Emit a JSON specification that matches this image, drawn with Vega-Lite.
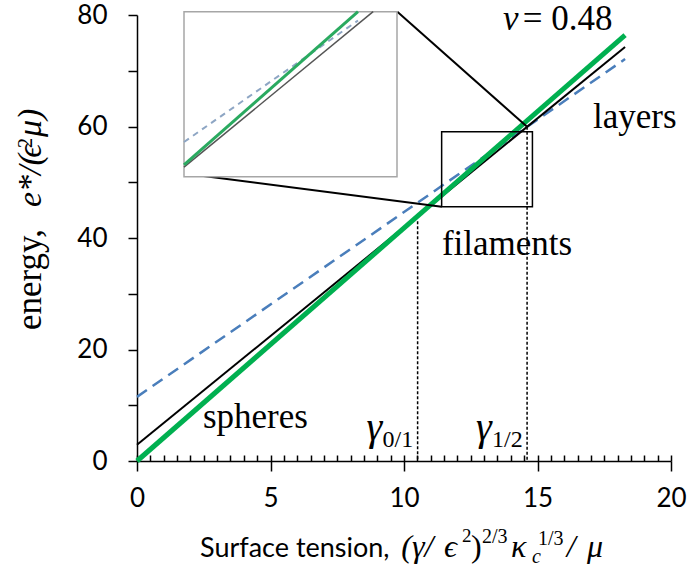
{
  "$schema": "https://vega.github.io/schema/vega-lite/v6.json",
  "width": 534,
  "height": 446,
  "autosize": "none",
  "padding": {"left": 137, "top": 15, "right": 19, "bottom": 114},
  "background": "white",
  "config": {"view": {"stroke": null}},
  "datasets": {
    "curves": [
      {"phase": "spheres", "x": 0, "y": 0},
      {"phase": "spheres", "x": 18.28, "y": 76.4},
      {"phase": "filaments", "x": 0, "y": 2.9},
      {"phase": "filaments", "x": 18.28, "y": 74.27},
      {"phase": "layers", "x": 0, "y": 11.5},
      {"phase": "layers", "x": 18.28, "y": 72.1}
    ],
    "inset": [
      {"phase": "spheres", "x": 11.14, "y": 46.57},
      {"phase": "spheres", "x": 14.13, "y": 59.07},
      {"phase": "filaments", "x": 11.14, "y": 46.39},
      {"phase": "filaments", "x": 14.39, "y": 59.07},
      {"phase": "layers", "x": 11.14, "y": 48.44},
      {"phase": "layers", "x": 14.13, "y": 58.35}
    ],
    "transitions": [
      {"gamma": "γ", "sub": "0/1", "x": 10.51, "y": 43.0},
      {"gamma": "γ", "sub": "1/2", "x": 14.61, "y": 59.94}
    ],
    "zoomBox": [{"x": 11.41, "x2": 14.81, "y": 45.61, "y2": 59.07}],
    "insetBox": [{"x": 11.14, "x2": 14.80, "y": 45.61, "y2": 59.07}],
    "connectors": [
      {"x": 9.75, "y": 80.6, "x2": 14.6, "y2": 60.0},
      {"x": 1.76, "y": 51.55, "x2": 11.41, "y2": 45.61}
    ],
    "labels": [
      {"text": "spheres", "x": 2.47, "y": 5.92},
      {"text": "filaments", "x": 11.42, "y": 36.95},
      {"text": "layers", "x": 17.08, "y": 59.7}
    ],
    "one": [{}]
  },
  "layer": [
    {
      "layer": [
        {
          "data": {"name": "curves"},
          "transform": [{"filter": "datum.phase == 'layers'"}],
          "mark": {"type": "line", "color": "#4a7ebb", "strokeWidth": 2.5, "strokeDash": [12, 7]},
          "encoding": {
            "x": {"field": "x", "type": "quantitative", "scale": {"domain": [0, 20], "nice": false},
              "axis": {"orient": "bottom", "values": [0, 5, 10, 15, 20], "title": null, "grid": false,
                "tickSize": 10, "tickWidth": 1.5, "tickColor": "black", "domainColor": "black", "domainWidth": 1.5,
                "labelFont": "Lato", "labelFontSize": 26, "labelColor": "black", "labelPadding": 14,
                "labelFlush": false, "labelOverlap": false, "labelBound": false}},
            "y": {"field": "y", "type": "quantitative", "scale": {"domain": [0, 80], "nice": false},
              "axis": {"orient": "left", "values": [0, 10, 20, 30, 40, 50, 60, 70, 80], "title": null, "grid": false,
                "labelExpr": "datum.value % 20 == 0 ? datum.label : ''",
                "tickSize": 9, "tickWidth": 1.5, "tickColor": "black", "domainColor": "black", "domainWidth": 1.5,
                "labelFont": "Lato", "labelFontSize": 26, "labelColor": "black", "labelPadding": 21,
                "labelOverlap": false, "labelBound": false, "labelFlush": false}}
          }
        },
        {
          "data": {"name": "curves"},
          "transform": [{"filter": "datum.phase == 'filaments'"}],
          "mark": {"type": "line", "color": "black", "strokeWidth": 2},
          "encoding": {"x": {"field": "x", "type": "quantitative"}, "y": {"field": "y", "type": "quantitative"}}
        },
        {
          "data": {"name": "curves"},
          "transform": [{"filter": "datum.phase == 'spheres'"}],
          "mark": {"type": "line", "color": "#00b050", "strokeWidth": 5},
          "encoding": {"x": {"field": "x", "type": "quantitative"}, "y": {"field": "y", "type": "quantitative"}}
        },
        {
          "data": {"name": "zoomBox"},
          "mark": {"type": "rect", "filled": false, "stroke": "black", "strokeWidth": 1.5},
          "encoding": {
            "x": {"field": "x", "type": "quantitative"}, "x2": {"field": "x2"},
            "y": {"field": "y", "type": "quantitative"}, "y2": {"field": "y2"}
          }
        },
        {
          "data": {"name": "connectors"},
          "mark": {"type": "rule", "color": "black", "strokeWidth": 2},
          "encoding": {
            "x": {"field": "x", "type": "quantitative"}, "x2": {"field": "x2"},
            "y": {"field": "y", "type": "quantitative"}, "y2": {"field": "y2"}
          }
        },
        {
          "data": {"name": "labels"},
          "mark": {"type": "text", "font": "Liberation Serif", "fontSize": 35, "align": "left", "baseline": "alphabetic", "color": "black"},
          "encoding": {
            "x": {"field": "x", "type": "quantitative"}, "y": {"field": "y", "type": "quantitative"},
            "text": {"field": "text", "type": "nominal"}
          }
        },
        {
          "data": {"name": "transitions"},
          "mark": {"type": "text", "font": "Liberation Serif", "fontStyle": "italic", "fontSize": 40, "align": "left", "baseline": "alphabetic", "dx": -51, "color": "black"},
          "encoding": {
            "x": {"field": "x", "type": "quantitative"}, "y": {"datum": 3.8, "type": "quantitative"},
            "text": {"field": "gamma", "type": "nominal"}
          }
        },
        {
          "data": {"name": "transitions"},
          "mark": {"type": "text", "font": "Liberation Serif", "fontSize": 24, "align": "left", "baseline": "alphabetic", "dx": -35, "color": "black"},
          "encoding": {
            "x": {"field": "x", "type": "quantitative"}, "y": {"datum": 2.5, "type": "quantitative"},
            "text": {"field": "sub", "type": "nominal"}
          }
        },
        {
          "data": {"name": "one"},
          "mark": {"type": "text", "font": "Liberation Serif", "fontStyle": "italic", "fontSize": 35, "align": "left", "baseline": "alphabetic", "color": "black"},
          "encoding": {"x": {"datum": 13.71, "type": "quantitative"}, "y": {"datum": 77.3, "type": "quantitative"}, "text": {"value": "ν"}}
        },
        {
          "data": {"name": "one"},
          "mark": {"type": "text", "font": "Liberation Serif", "fontSize": 35, "align": "left", "baseline": "alphabetic", "color": "black"},
          "encoding": {"x": {"datum": 14.45, "type": "quantitative"}, "y": {"datum": 77.3, "type": "quantitative"}, "text": {"value": "= 0.48"}}
        },
        {
          "data": {"name": "one"},
          "mark": {"type": "text", "font": "Lato", "fontSize": 27, "align": "left", "baseline": "alphabetic", "color": "black"},
          "encoding": {"x": {"datum": 2.36, "type": "quantitative"}, "y": {"datum": -17.22, "type": "quantitative"}, "text": {"value": "Surface tension,"}}
        },
        {
          "data": {"name": "one"},
          "mark": {"type": "text", "font": "Liberation Serif", "fontStyle": "italic", "fontSize": 32, "align": "left", "baseline": "alphabetic", "color": "black"},
          "encoding": {"x": {"datum": 9.9, "type": "quantitative"}, "y": {"datum": -17.22, "type": "quantitative"}, "text": {"value": "(γ/"}}
        },
        {
          "data": {"name": "one"},
          "mark": {"type": "text", "font": "Liberation Serif", "fontStyle": "italic", "fontSize": 32, "align": "left", "baseline": "alphabetic", "color": "black"},
          "encoding": {"x": {"datum": 11.5, "type": "quantitative"}, "y": {"datum": -17.22, "type": "quantitative"}, "text": {"value": "ϵ"}}
        },
        {
          "data": {"name": "one"},
          "mark": {"type": "text", "font": "Liberation Serif", "fontSize": 19, "align": "left", "baseline": "alphabetic", "color": "black"},
          "encoding": {"x": {"datum": 12.17, "type": "quantitative"}, "y": {"datum": -14.6, "type": "quantitative"}, "text": {"value": "2"}}
        },
        {
          "data": {"name": "one"},
          "mark": {"type": "text", "font": "Liberation Serif", "fontSize": 32, "align": "left", "baseline": "alphabetic", "color": "black"},
          "encoding": {"x": {"datum": 12.51, "type": "quantitative"}, "y": {"datum": -17.22, "type": "quantitative"}, "text": {"value": ")"}}
        },
        {
          "data": {"name": "one"},
          "mark": {"type": "text", "font": "Liberation Serif", "fontSize": 20, "align": "left", "baseline": "alphabetic", "color": "black"},
          "encoding": {"x": {"datum": 12.92, "type": "quantitative"}, "y": {"datum": -14.71, "type": "quantitative"}, "text": {"value": "2/3"}}
        },
        {
          "data": {"name": "one"},
          "mark": {"type": "text", "font": "Liberation Serif", "fontStyle": "italic", "fontSize": 32, "align": "left", "baseline": "alphabetic", "color": "black"},
          "encoding": {"x": {"datum": 14.01, "type": "quantitative"}, "y": {"datum": -17.22, "type": "quantitative"}, "text": {"value": "κ"}}
        },
        {
          "data": {"name": "one"},
          "mark": {"type": "text", "font": "Liberation Serif", "fontStyle": "italic", "fontSize": 20, "align": "left", "baseline": "alphabetic", "color": "black"},
          "encoding": {"x": {"datum": 14.79, "type": "quantitative"}, "y": {"datum": -18.3, "type": "quantitative"}, "text": {"value": "c"}}
        },
        {
          "data": {"name": "one"},
          "mark": {"type": "text", "font": "Liberation Serif", "fontSize": 20, "align": "left", "baseline": "alphabetic", "color": "black"},
          "encoding": {"x": {"datum": 15.02, "type": "quantitative"}, "y": {"datum": -15.07, "type": "quantitative"}, "text": {"value": "1/3"}}
        },
        {
          "data": {"name": "one"},
          "mark": {"type": "text", "font": "Liberation Serif", "fontStyle": "italic", "fontSize": 32, "align": "left", "baseline": "alphabetic", "color": "black"},
          "encoding": {"x": {"datum": 16.1, "type": "quantitative"}, "y": {"datum": -17.22, "type": "quantitative"}, "text": {"value": "/"}}
        },
        {
          "data": {"name": "one"},
          "mark": {"type": "text", "font": "Liberation Serif", "fontStyle": "italic", "fontSize": 32, "align": "left", "baseline": "alphabetic", "color": "black"},
          "encoding": {"x": {"datum": 16.85, "type": "quantitative"}, "y": {"datum": -17.22, "type": "quantitative"}, "text": {"value": "μ"}}
        },
        {
          "data": {"name": "one"},
          "mark": {"type": "text", "font": "Liberation Serif", "fontSize": 35, "angle": 270, "align": "left", "baseline": "alphabetic", "color": "black"},
          "encoding": {"x": {"datum": -3.6, "type": "quantitative"}, "y": {"datum": 23.5, "type": "quantitative"}, "text": {"value": "energy,"}}
        },
        {
          "data": {"name": "one"},
          "mark": {"type": "text", "font": "Liberation Serif", "fontStyle": "italic", "fontSize": 34, "angle": 270, "align": "left", "baseline": "alphabetic", "color": "black"},
          "encoding": {"x": {"datum": -3.6, "type": "quantitative"}, "y": {"datum": 45.56, "type": "quantitative"}, "text": {"value": "e*/("}}
        },
        {
          "data": {"name": "one"},
          "mark": {"type": "text", "font": "Liberation Serif", "fontStyle": "italic", "fontSize": 34, "angle": 270, "align": "left", "baseline": "alphabetic", "color": "black"},
          "encoding": {"x": {"datum": -3.6, "type": "quantitative"}, "y": {"datum": 54.4, "type": "quantitative"}, "text": {"value": "ϵ"}}
        },
        {
          "data": {"name": "one"},
          "mark": {"type": "text", "font": "Liberation Serif", "fontSize": 20, "angle": 270, "align": "left", "baseline": "alphabetic", "color": "black"},
          "encoding": {"x": {"datum": -3.95, "type": "quantitative"}, "y": {"datum": 56.14, "type": "quantitative"}, "text": {"value": "2"}}
        },
        {
          "data": {"name": "one"},
          "mark": {"type": "text", "font": "Liberation Serif", "fontStyle": "italic", "fontSize": 34, "angle": 270, "align": "left", "baseline": "alphabetic", "color": "black"},
          "encoding": {"x": {"datum": -3.6, "type": "quantitative"}, "y": {"datum": 58.12, "type": "quantitative"}, "text": {"value": "μ)"}}
        }
      ]
    },
    {
      "data": {"name": "transitions"},
      "mark": {"type": "rule", "color": "black", "strokeWidth": 1.5, "strokeDash": [3, 2]},
      "encoding": {
        "x": {"field": "x", "type": "quantitative", "scale": {"domain": [0, 20], "nice": false},
          "axis": {"orient": "bottom", "values": [0, 0.5, 1, 1.5, 2, 2.5, 3, 3.5, 4, 4.5, 5, 5.5, 6, 6.5, 7, 7.5, 8, 8.5, 9, 9.5, 10, 10.5, 11, 11.5, 12, 12.5, 13, 13.5, 14, 14.5, 15, 15.5, 16, 16.5, 17, 17.5, 18, 18.5, 19, 19.5, 20],
            "tickSize": -6, "tickWidth": 1.5, "tickColor": "black", "labels": false, "domain": false, "title": null, "grid": false}},
        "y": {"field": "y", "type": "quantitative", "scale": {"domain": [0, 80], "nice": false}, "axis": null},
        "y2": {"datum": 0}
      }
    },
    {
      "layer": [
        {
          "data": {"name": "insetBox"},
          "mark": {"type": "rect", "fill": "white", "stroke": "#a6a6a6", "strokeWidth": 1.5},
          "encoding": {
            "x": {"field": "x", "type": "quantitative", "scale": {"domain": [11.14, 14.80], "range": [47, 260], "nice": false, "zero": false}, "axis": null},
            "x2": {"field": "x2"},
            "y": {"field": "y", "type": "quantitative", "scale": {"domain": [45.61, 59.07], "range": [161.7, -3.3], "nice": false, "zero": false}, "axis": null},
            "y2": {"field": "y2"}
          }
        },
        {
          "data": {"name": "inset"},
          "transform": [{"filter": "datum.phase == 'layers'"}],
          "mark": {"type": "line", "color": "#8ea6c4", "strokeWidth": 2, "strokeDash": [6, 5]},
          "encoding": {"x": {"field": "x", "type": "quantitative"}, "y": {"field": "y", "type": "quantitative"}}
        },
        {
          "data": {"name": "inset"},
          "transform": [{"filter": "datum.phase == 'filaments'"}],
          "mark": {"type": "line", "color": "#555555", "strokeWidth": 1.5},
          "encoding": {"x": {"field": "x", "type": "quantitative"}, "y": {"field": "y", "type": "quantitative"}}
        },
        {
          "data": {"name": "inset"},
          "transform": [{"filter": "datum.phase == 'spheres'"}],
          "mark": {"type": "line", "color": "#2aaa60", "strokeWidth": 3},
          "encoding": {"x": {"field": "x", "type": "quantitative"}, "y": {"field": "y", "type": "quantitative"}}
        }
      ]
    }
  ],
  "resolve": {"scale": {"x": "independent", "y": "independent"}}
}
